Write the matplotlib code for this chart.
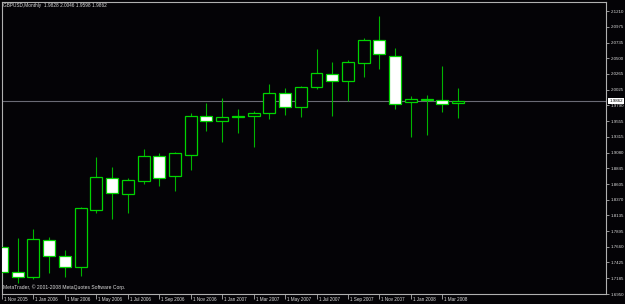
import numpy as np
import matplotlib
matplotlib.use('Agg')
import matplotlib.pyplot as plt
import matplotlib.transforms as mtransforms

# GBPUSD monthly bars, Nov 2005 .. Apr 2008
opens = [1.7658, 1.7277, 1.7201, 1.7763, 1.7518, 1.7352, 1.8215, 1.8702, 1.8456, 1.8657,
         1.9028, 1.8732, 1.9048, 1.9635, 1.9560, 1.9610, 1.9625, 1.9671, 1.9977, 1.9771,
         2.0063, 2.0268, 2.0153, 2.0429, 2.0775, 2.0539, 1.9846, 1.9867, 1.9872, 1.9828]
highs = [1.7778, 1.7798, 1.7924, 1.7804, 1.7613, 1.8260, 1.9018, 1.8867, 1.8697, 1.9129,
         1.9069, 1.9084, 1.9680, 1.9831, 1.9906, 1.9732, 1.9711, 2.0113, 2.0048, 2.0083,
         2.0635, 2.0449, 2.0469, 2.0806, 2.1137, 2.0659, 1.9937, 1.9953, 2.0384, 2.0046]
lows = [1.7146, 1.7111, 1.7171, 1.7271, 1.7211, 1.7221, 1.8175, 1.8075, 1.8170, 1.8607,
        1.8577, 1.8501, 1.8817, 1.9409, 1.9239, 1.9379, 1.9158, 1.9580, 1.9650, 1.9611,
        2.0037, 1.9631, 1.9861, 2.0223, 2.0334, 1.9732, 1.9314, 1.9339, 1.9691, 1.9598]
closes = [1.7281, 1.7211, 1.7774, 1.7522, 1.7357, 1.8241, 1.8707, 1.8467, 1.8667, 1.9028,
          1.8702, 1.9069, 1.9635, 1.9555, 1.9611, 1.9625, 1.9676, 1.9982, 1.9771, 2.0072,
          2.0274, 2.0153, 2.0439, 2.0771, 2.0560, 1.9816, 1.9887, 1.9887, 1.9812, 1.9862]

date_labels = ['1 Nov 2005', '1 Jan 2006', '1 Mar 2006', '1 May 2006', '1 Jul 2006',
               '1 Sep 2006', '1 Nov 2006', '1 Jan 2007', '1 Mar 2007', '1 May 2007',
               '1 Jul 2007', '1 Sep 2007', '1 Nov 2007', '1 Jan 2008', '1 Mar 2008']
price_ticks = ['2.1210', '2.0975', '2.0735', '2.0500', '2.0265', '2.0025', '1.9790',
               '1.9555', '1.9315', '1.9080', '1.8845', '1.8605', '1.8370', '1.8135',
               '1.7895', '1.7660', '1.7425', '1.7185', '1.6950']

plt.rcParams['font.family'] = ['Liberation Sans', 'DejaVu Sans']

bg = '#040306'
green = '#00d400'
wick = '#00b400'
frame = '#b0b0b0'
txt = '#dcdcdc'
fs = 3.3

o = np.array(opens)
c = np.array(closes)
x = np.arange(len(o))
bull = c >= o

fig = plt.figure(figsize=(6.25, 3.04), dpi=100)
fig.patch.set_facecolor(bg)
ax = fig.add_axes([2 / 625, 10 / 304, 604 / 625, 292.5 / 304])
ax.set_facecolor(bg)

# current price line
ax.axhline(closes[-1], color='#6a6a74', lw=0.8, zorder=1)

# wicks then bodies
ax.vlines(x, lows, highs, color=wick, lw=0.8, zorder=2)
body_lo = np.minimum(o, c)
body_h = np.maximum(np.abs(c - o), 0.0008)
ax.bar(x, body_h, bottom=body_lo, width=0.76,
       color=np.where(bull, bg, '#ffffff'), edgecolor=green, lw=0.9, zorder=3)

ax.set_xlim(0.063, 38.41)
ax.set_ylim(1.695, 2.1355)

for s in ax.spines.values():
    s.set_color(frame)
    s.set_linewidth(0.8)

# date axis
ax.set_xticks(x[::2])
ax.set_xticklabels(date_labels)
ax.tick_params(axis='x', colors=frame, length=3.6, width=0.6, pad=-1.4,
               labelsize=fs, labelcolor=txt)
shift = mtransforms.ScaledTranslation(2 / 100, 0, fig.dpi_scale_trans)
for lab in ax.get_xticklabels():
    lab.set_ha('left')
    lab.set_transform(lab.get_transform() + shift)

# price axis on the right
ax.yaxis.tick_right()
ax.set_yticks([float(p) for p in price_ticks])
ax.set_yticklabels(price_ticks)
ax.tick_params(axis='y', colors=frame, length=2.2, width=0.6, pad=1,
               labelsize=3.2, labelcolor=txt)

# current price box
tr = mtransforms.blended_transform_factory(ax.transAxes, ax.transData)
ax.text(1.0, closes[-1], '%.4f' % closes[-1],
        transform=tr + mtransforms.ScaledTranslation(3.5 / 100, 0, fig.dpi_scale_trans),
        ha='left', va='center', fontsize=3.2, color='black', clip_on=False, zorder=5,
        bbox=dict(facecolor='white', edgecolor='none', pad=0.8))

header = 'GBPUSD,Monthly  %.4f %.4f %.4f %.4f' % (opens[-1], highs[-1], lows[-1], closes[-1])
fig.text(3 / 625, 1 - 6 / 304, header, ha='left', va='center', fontsize=3.4, color=txt)
ax.text(1 / 604, 7 / 292.5, 'MetaTrader, \u00a9 2001-2008 MetaQuotes Software Corp.',
        transform=ax.transAxes, ha='left', va='center', fontsize=3.6, color=txt)

fig.savefig('out.png', dpi=100, facecolor=bg)
